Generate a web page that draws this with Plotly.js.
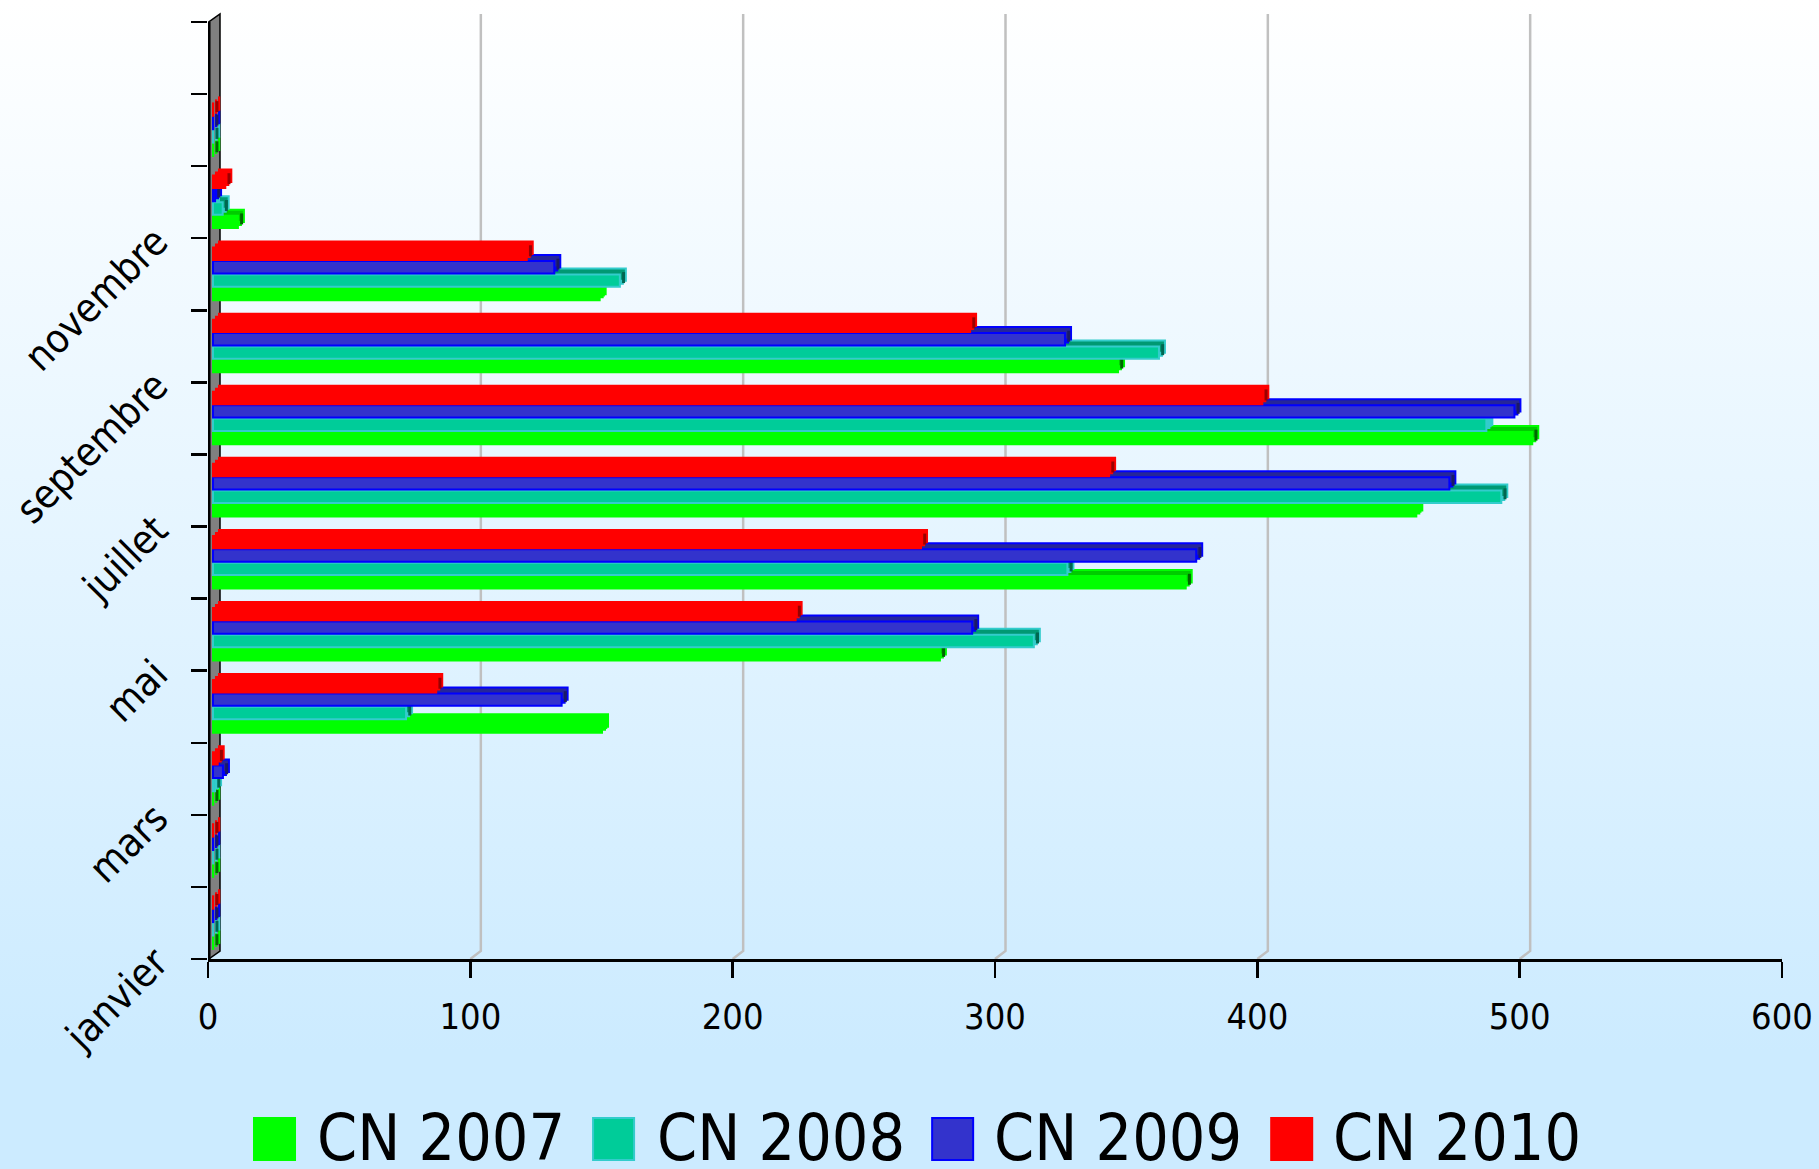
<!DOCTYPE html>
<html>
<head>
<meta charset="utf-8">
<script src="https://cdn.plot.ly/plotly-3.0.1.min.js"></script>
<style>
html,body{margin:0;padding:0;width:1819px;height:1169px;overflow:hidden;
background:linear-gradient(to bottom,#ffffff 0%,#ccebff 90%,#ccebff 100%);}
#chart{width:1819px;height:1169px;}
</style>
</head>
<body>
<div id="chart"></div>
<script>
const months = ['janvier','février','mars','avril','mai','juin','juillet','août','septembre','octobre','novembre','décembre'];
const tickLabels = ['janvier','','mars','','mai','','juillet','','septembre','','novembre','','',''];
const cn2007 = [2,2,2,150.2,279,372.7,460.6,504.8,346.9,149.3,11.4,2];
const cn2008 = [2,2,2.7,75.5,314.8,327.6,493,487.3,362.5,157,5.6,2];
const cn2009 = [2,2,5.7,134.8,291.3,376.7,473.2,498,326.7,132,2.7,2];
const cn2010 = [2,2,3.7,87,224,271.8,343.5,401.9,290.5,121.5,6.6,2];
const xTicks = [0,100,200,300,400,500,600];
const flat2007 = [3,6,9];
const flat2008 = [7];

const FONT = '"DejaVu Sans Condensed","DejaVu Sans",sans-serif';
const W = 1819, H = 1169, L = 208, R = 1781.7, B = 959, T = 10;
const pxX = (R-L)/600, pxY = 72.08;
const series = [
  {name:'CN 2007', v:cn2007, flat:flat2007, fill:'#00ff00', line:'#00ff00', top:'#00cc00', cap:'#006600', c:0.226, sw:253, tx:318},
  {name:'CN 2008', v:cn2008, flat:flat2008, fill:'#00cc99', line:'#33cccc', top:'#009973', cap:'#006650', c:0.412, sw:592, tx:658},
  {name:'CN 2009', v:cn2009, flat:[], fill:'#3333cc', line:'#0000ff', top:'#262699', cap:'#1a1a66', c:0.598, sw:931, tx:995},
  {name:'CN 2010', v:cn2010, flat:[], fill:'#ff0000', line:'#ff0000', top:'#ff0000', cap:'#990000', c:0.784, sw:1270, tx:1334}
];
const start = 1.9, depth = 6, barH = 12.4;
const traces = [];
function layer(s, off, color, lineColor){
  return {type:'bar', orientation:'h', name:s.name, showlegend:false, hoverinfo:'skip',
    y:months.map((m,i)=>i+s.c+off/pxY),
    x:s.v.map(v=>v-start),
    base:s.v.map(()=>start+off/pxX),
    width:months.map(()=>barH/pxY),
    marker:{color:color, line:{color:lineColor, width:2}}};
}
series.forEach(s=>{
  traces.push(layer(s, depth/2, s.line, s.line));
  traces.push(layer(s, depth, months.map((m,i)=>s.flat.includes(i)?s.line:s.top), s.line));
  traces.push({type:'bar', orientation:'h', name:s.name, showlegend:false, hoverinfo:'skip',
    y:months.map((m,i)=>i+s.c+3/pxY),
    x:s.v.map(()=>3/pxX),
    base:s.v.map(v=>v+2.2/pxX),
    width:months.map(()=>11/pxY),
    marker:{color:months.map((m,i)=>s.flat.includes(i)?s.line:s.cap), line:{width:0}}});
  traces.push(layer(s, 0, s.fill, s.line));
});

const dx = 12/pxX, dy = 8/pxY, topY = 13, wallX = 0.8/pxX;
const shapes = [];
xTicks.slice(1).forEach(t=>{
  shapes.push({type:'path', xref:'x', yref:'y', layer:'below',
    path:`M${t},0 L${t+10.5/pxX},${dy} L${t+10.5/pxX},${topY+dy}`,
    line:{color:'#c0c0c0', width:2.5}});
});
shapes.push({type:'path', xref:'x', yref:'y', layer:'below',
  path:`M${wallX},0 L${dx},${dy} L${dx},${topY+dy} L${wallX},${topY} Z`,
  fillcolor:'#808080', line:{color:'#000000', width:1.5}});
shapes.push({type:'line', xref:'x', yref:'y', layer:'below',
  x0:wallX, x1:wallX, y0:0, y1:topY, line:{color:'#000000', width:3.5}});

const paperX = p => (p-L)/(R-L);
const paperY = p => (B-p)/(B-T);
const annotations = [];
series.forEach(s=>{
  shapes.push({type:'rect', xref:'paper', yref:'paper',
    x0:paperX(s.sw+1), x1:paperX(s.sw+42), y0:paperY(1160), y1:paperY(1118),
    fillcolor:s.fill, line:{color:s.line, width:2}});
  annotations.push({xref:'paper', yref:'paper', x:paperX(s.tx-3), y:paperY(1138),
    xanchor:'left', yanchor:'middle', showarrow:false, text:s.name,
    font:{family:FONT, size:64, color:'#000000'}});
});

const layout = {
  width:W, height:H, autosize:false,
  margin:{l:L, r:W-R, t:T, b:H-B, pad:0},
  paper_bgcolor:'rgba(0,0,0,0)', plot_bgcolor:'rgba(0,0,0,0)',
  barmode:'overlay', showlegend:false,
  font:{family:FONT, color:'#000000', size:36},
  xaxis:{range:[0,600], tickmode:'array', tickvals:xTicks, ticktext:xTicks.map(String),
    showgrid:false, zeroline:false, showline:true, linecolor:'#000', linewidth:2.5,
    ticks:'outside', ticklen:16, tickwidth:2.5, tickcolor:'#000', ticklabelstandoff:8,
    tickfont:{family:FONT, size:36, color:'#000'}},
  yaxis:{range:[0,(B-T)/pxY], tickmode:'array', tickvals:tickLabels.map((t,i)=>i), ticktext:tickLabels,
    showgrid:false, zeroline:false, showline:false,
    ticks:'outside', ticklen:16, tickwidth:2.5, tickcolor:'#000', tickangle:-45,
    ticklabelstandoff:27, ticklabelshift:-2,
    tickfont:{family:FONT, size:40, color:'#000'}},
  shapes:shapes, annotations:annotations
};
Plotly.newPlot('chart', traces, layout, {displayModeBar:false, staticPlot:true});
</script>
</body>
</html>
